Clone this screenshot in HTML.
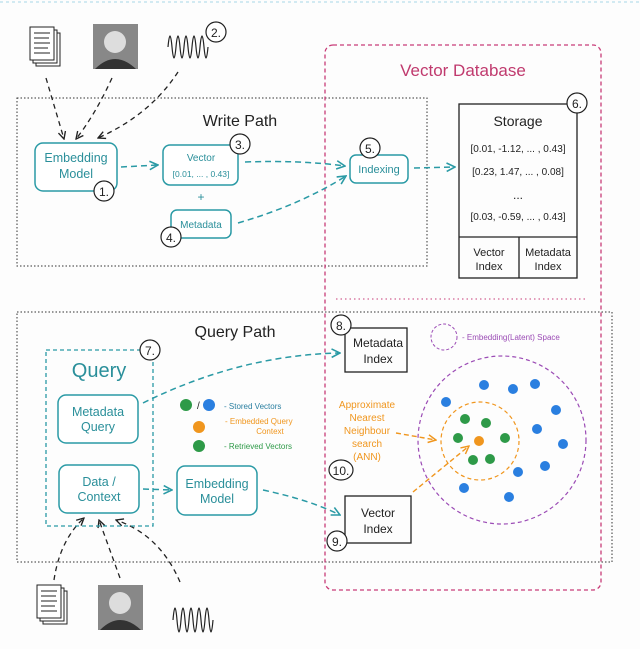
<!DOCTYPE html>
<html><head><meta charset="utf-8"><style>
html,body{margin:0;padding:0;background:#fdfdfd;}
svg{display:block;font-family:"Liberation Sans",sans-serif;}
</style></head><body>
<svg width="640" height="649" viewBox="0 0 640 649" xmlns="http://www.w3.org/2000/svg">
<defs>
<marker id="at" viewBox="0 0 10 10" refX="9" refY="5" markerWidth="7" markerHeight="7" orient="auto"><path d="M1,1 L9,5 L1,9" fill="none" stroke="#2a9aa5" stroke-width="1.5"/></marker>
<marker id="ak" viewBox="0 0 10 10" refX="9" refY="5" markerWidth="7" markerHeight="7" orient="auto"><path d="M1,1 L9,5 L1,9" fill="none" stroke="#222" stroke-width="1.5"/></marker>
<marker id="ao" viewBox="0 0 10 10" refX="9" refY="5" markerWidth="7" markerHeight="7" orient="auto"><path d="M1,1 L9,5 L1,9" fill="none" stroke="#f0961e" stroke-width="1.5"/></marker>
</defs>
<line x1="0" y1="2" x2="640" y2="2" stroke="#a8d8e8" stroke-dasharray="3,3"/>
<rect x="17" y="98" width="410" height="168" fill="none" stroke="#333" stroke-dasharray="1.5,2"/>
<text x="240" y="126" font-size="16" text-anchor="middle" fill="#222">Write Path</text>
<rect x="17" y="312" width="595" height="250" fill="none" stroke="#333" stroke-dasharray="1.5,2"/>
<text x="235" y="337" font-size="16" text-anchor="middle" fill="#222">Query Path</text>
<rect x="325" y="45" width="276" height="545" rx="8" fill="none" stroke="#c83c78" stroke-width="1.3" stroke-dasharray="4,3"/>
<text x="463" y="76" font-size="17" text-anchor="middle" fill="#c03a6e">Vector Database</text>
<line x1="336" y1="299" x2="586" y2="299" stroke="#c83c78" stroke-dasharray="1.5,3"/>
<g stroke="#222" fill="#fff" stroke-width="1">
<rect x="36" y="33" width="24" height="33"/><rect x="33" y="30" width="24" height="33"/><rect x="30" y="27" width="24" height="33"/>
<path d="M34,33h16M34,38h15M34,43h16M34,48h14M34,53h16" fill="none"/>
<rect x="43" y="591" width="24" height="33"/><rect x="40" y="588" width="24" height="33"/><rect x="37" y="585" width="24" height="33"/>
<path d="M41,591h16M41,596h15M41,601h16M41,606h14M41,611h16" fill="none"/>
</g>
<rect x="93" y="24" width="45" height="45" fill="#888"/><circle cx="115" cy="42" r="11" fill="#ddd"/><path d="M95,69 q20,-20 41,0z" fill="#333"/>
<rect x="98" y="585" width="45" height="45" fill="#888"/><circle cx="120" cy="603" r="11" fill="#ddd"/><path d="M100,630 q20,-20 41,0z" fill="#333"/>
<path d="M168,52 q2,-22 4,0 t4,0 t4,0 t4,0 t4,0 t4,0 t4,0 t4,0 t4,0 t4,0" fill="none" stroke="#222" stroke-width="1.2" transform="translate(0,-5)"/>
<path d="M173,620 q2,-24 4,0 t4,0 t4,0 t4,0 t4,0 t4,0 t4,0 t4,0 t4,0 t4,0" fill="none" stroke="#222" stroke-width="1.2"/>
<g fill="none" stroke="#222" stroke-width="1.3" stroke-dasharray="5,4">
<path d="M46,78 L64,139" marker-end="url(#ak)"/>
<path d="M112,78 Q95,115 76,139" marker-end="url(#ak)"/>
<path d="M178,72 Q150,115 98,138" marker-end="url(#ak)"/>
<path d="M54,580 Q60,540 84,518" marker-end="url(#ak)"/>
<path d="M120,578 L99,520" marker-end="url(#ak)"/>
<path d="M180,582 Q160,535 116,520" marker-end="url(#ak)"/>
</g>
<g fill="#fff" stroke="#2a9aa5" stroke-width="1.5">
<rect x="35" y="143" width="82" height="48" rx="8"/>
<rect x="163" y="145" width="75" height="40" rx="7"/>
<rect x="171" y="210" width="60" height="28" rx="6"/>
<rect x="350" y="155" width="58" height="28" rx="6"/>
<rect x="58" y="395" width="80" height="48" rx="8"/>
<rect x="59" y="465" width="80" height="48" rx="8"/>
<rect x="177" y="466" width="80" height="49" rx="8"/>
</g>
<rect x="46" y="350" width="107" height="176" fill="none" stroke="#2a9aa5" stroke-width="1.3" stroke-dasharray="4,3"/>
<g fill="#2a8f9a" text-anchor="middle">
<text x="76" y="162" font-size="12.5">Embedding</text><text x="76" y="178" font-size="12.5">Model</text>
<text x="201" y="161" font-size="10">Vector</text><text x="201" y="177" font-size="8.5">[0.01, ... , 0.43]</text>
<text x="201" y="201" font-size="12">+</text>
<text x="201" y="228" font-size="10">Metadata</text>
<text x="379" y="173" font-size="11">Indexing</text>
<text x="99" y="377" font-size="20">Query</text>
<text x="98" y="416" font-size="12.5">Metadata</text><text x="98" y="431" font-size="12.5">Query</text>
<text x="99" y="486" font-size="12.5">Data /</text><text x="99" y="501" font-size="12.5">Context</text>
<text x="217" y="488" font-size="12.5">Embedding</text><text x="217" y="503" font-size="12.5">Model</text>
</g>
<g fill="none" stroke="#2a9aa5" stroke-width="1.5" stroke-dasharray="6,4">
<path d="M121,167 L158,165" marker-end="url(#at)"/>
<path d="M245,162 Q300,160 345,166" marker-end="url(#at)"/>
<path d="M238,223 Q300,205 346,176" marker-end="url(#at)"/>
<path d="M414,168 L455,167" marker-end="url(#at)"/>
<path d="M143,403 Q240,355 340,353" marker-end="url(#at)"/>
<path d="M143,489 L172,490" marker-end="url(#at)"/>
<path d="M263,490 Q310,500 340,515" marker-end="url(#at)"/>
</g>
<g fill="none" stroke="#222" stroke-width="1.3">
<rect x="459" y="104" width="118" height="174"/>
<line x1="459" y1="237" x2="577" y2="237"/>
<line x1="519" y1="237" x2="519" y2="278"/>
<rect x="345" y="328" width="62" height="44"/>
<rect x="345" y="496" width="66" height="47"/>
</g>
<g fill="#222" text-anchor="middle">
<text x="518" y="126" font-size="14">Storage</text>
<text x="518" y="152" font-size="10">[0.01, -1.12, ... , 0.43]</text>
<text x="518" y="175" font-size="10">[0.23, 1.47, ... , 0.08]</text>
<text x="518" y="199" font-size="12">...</text>
<text x="518" y="220" font-size="10">[0.03, -0.59, ... , 0.43]</text>
<text x="489" y="256" font-size="11">Vector</text><text x="489" y="270" font-size="11">Index</text>
<text x="548" y="256" font-size="11">Metadata</text><text x="548" y="270" font-size="11">Index</text>
<text x="378" y="347" font-size="12">Metadata</text><text x="378" y="363" font-size="12">Index</text>
<text x="378" y="517" font-size="12">Vector</text><text x="378" y="533" font-size="12">Index</text>
</g>
<g fill="#fff" stroke="#222" stroke-width="1.2">
<circle cx="104" cy="191" r="10"/><circle cx="216" cy="32" r="10"/><circle cx="240" cy="144" r="10"/>
<circle cx="171" cy="237" r="10"/><circle cx="370" cy="148" r="10"/><circle cx="577" cy="103" r="10"/>
<circle cx="150" cy="350" r="10"/><circle cx="341" cy="325" r="10"/><circle cx="337" cy="541" r="10"/>
<ellipse cx="341" cy="470" rx="12" ry="10"/>
</g>
<g fill="#222" font-size="12" text-anchor="middle">
<text x="104" y="196">1.</text><text x="216" y="37">2.</text><text x="240" y="149">3.</text>
<text x="171" y="242">4.</text><text x="370" y="153">5.</text><text x="577" y="108">6.</text>
<text x="150" y="355">7.</text><text x="341" y="330">8.</text><text x="337" y="546">9.</text><text x="341" y="475">10.</text>
</g>
<circle cx="186" cy="405" r="6" fill="#2e9a48"/><text x="197" y="409" font-size="10" fill="#222">/</text><circle cx="209" cy="405" r="6" fill="#2a7fe0"/>
<text x="224" y="409" font-size="8" fill="#2a7fa0">- Stored Vectors</text>
<circle cx="199" cy="427" r="6" fill="#f0961e"/>
<text x="225" y="424" font-size="8" fill="#f0961e">- Embedded Query</text><text x="270" y="434" font-size="8" fill="#f0961e" text-anchor="middle">Context</text>
<circle cx="199" cy="446" r="6" fill="#2e9a48"/>
<text x="224" y="449" font-size="8" fill="#2e9a48">- Retrieved Vectors</text>
<circle cx="444" cy="337" r="13" fill="none" stroke="#9b4bb5" stroke-dasharray="3,2"/>
<text x="462" y="340" font-size="8" fill="#9b4bb5">- Embedding(Latent) Space</text>
<circle cx="502" cy="440" r="84" fill="none" stroke="#9b4bb5" stroke-width="1.2" stroke-dasharray="4,3"/>
<circle cx="480" cy="441" r="39" fill="none" stroke="#f0961e" stroke-width="1.2" stroke-dasharray="4,3"/>
<g fill="#2a7fe0">
<circle cx="484" cy="385" r="5"/><circle cx="513" cy="389" r="5"/><circle cx="535" cy="384" r="5"/>
<circle cx="446" cy="402" r="5"/><circle cx="556" cy="410" r="5"/><circle cx="537" cy="429" r="5"/>
<circle cx="563" cy="444" r="5"/><circle cx="545" cy="466" r="5"/><circle cx="518" cy="472" r="5"/>
<circle cx="464" cy="488" r="5"/><circle cx="509" cy="497" r="5"/>
</g>
<g fill="#2e9a48">
<circle cx="465" cy="419" r="5"/><circle cx="486" cy="423" r="5"/><circle cx="458" cy="438" r="5"/>
<circle cx="505" cy="438" r="5"/><circle cx="473" cy="460" r="5"/><circle cx="490" cy="459" r="5"/>
</g>
<circle cx="479" cy="441" r="5" fill="#f0961e"/>
<g fill="#f0961e" font-size="10" text-anchor="middle">
<text x="367" y="408">Approximate</text><text x="367" y="421">Nearest</text><text x="367" y="434">Neighbour</text>
<text x="367" y="447">search</text><text x="367" y="460">(ANN)</text>
</g>
<g fill="none" stroke="#f0961e" stroke-width="1.4" stroke-dasharray="5,3">
<path d="M396,433 L436,440" marker-end="url(#ao)"/>
<path d="M413,492 L469,446" marker-end="url(#ao)"/>
</g>
</svg>
</body></html>
